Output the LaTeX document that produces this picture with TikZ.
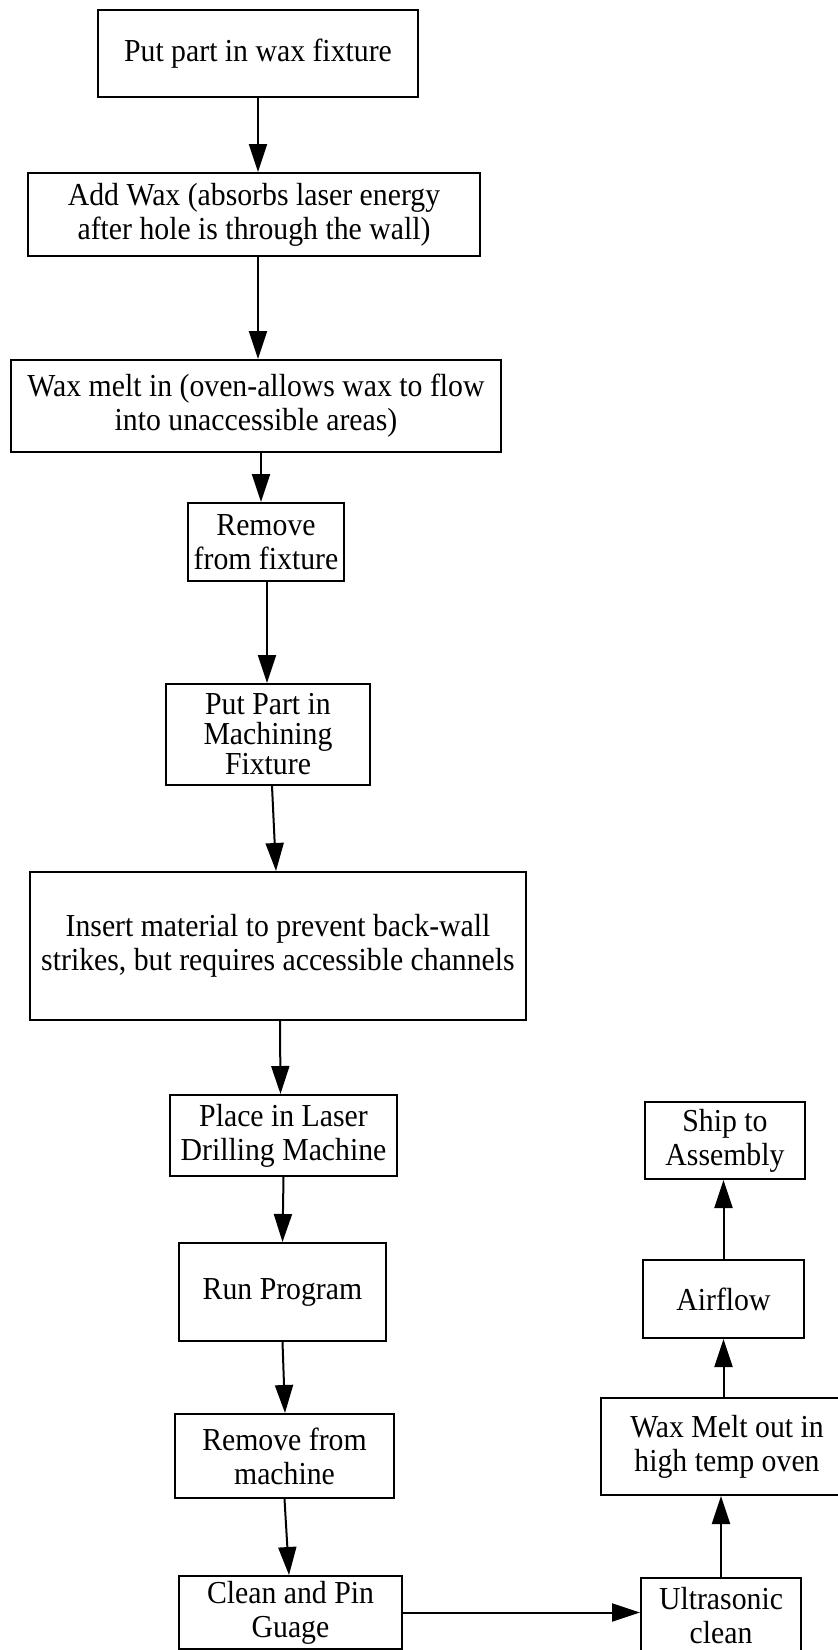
\documentclass[tikz,border=0pt]{standalone}
\usepackage{fontspec}
\setmainfont{Liberation Serif}[FakeStretch=0.93]
\usetikzlibrary{arrows.meta,calc}
\tikzset{
  box/.style={draw, line width=2pt, inner sep=0pt, align=center, anchor=center,
    font=\fontsize{32}{34}\selectfont},
  arr/.style={line width=2pt, -{Triangle[length=28pt,width=18pt]}}
}
\begin{document}
\begin{tikzpicture}[x=1pt,y=-1pt]
\useasboundingbox (0,0) rectangle (838,1650);
\clip (0,0) rectangle (838,1650);
\fill[white] (0,0) rectangle (838,1650);
\node[box, minimum width=320pt, minimum height=87pt] (n1) at (258,53.5) {Put part in wax fixture};
\node[box, minimum width=452pt, minimum height=83pt] (n2) at (254,214.5) {Add Wax (absorbs laser energy\\after hole is through the wall)};
\node[box, minimum width=490pt, minimum height=92pt] (n3) at (256,406) {Wax melt in (oven-allows wax to flow\\into unaccessible areas)};
\node[box, minimum width=156pt, minimum height=78pt] (n4) at (266,542) {Remove\\from fixture};
\node[box, minimum width=204pt, minimum height=101pt, font=\fontsize{32}{30}\selectfont] (n5) at (268,734.5) {Put Part in\\Machining\\Fixture};
\node[box, minimum width=496pt, minimum height=148pt] (n6) at (278,946) {Insert material to prevent back-wall\\strikes, but requires accessible channels};
\node[box, minimum width=227pt, minimum height=81pt] (n7) at (283.5,1135.5) {Place in Laser\\Drilling Machine};
\node[box, minimum width=207pt, minimum height=98pt] (n8) at (282.5,1292) {Run Program};
\node[box, minimum width=219pt, minimum height=84pt] (n9) at (284.5,1456) {Remove from\\machine};
\node[box, minimum width=223pt, minimum height=73pt] (n10) at (290.5,1612.5) {Clean and Pin\\Guage};
\node[box, minimum width=160pt, minimum height=76pt] (n11) at (721,1616) {Ultrasonic\\clean};
\node[box, minimum width=252pt, minimum height=97pt] (n12) at (727,1446.5) {Wax Melt out in\\high temp oven};
\node[box, minimum width=161pt, minimum height=78pt] (n13) at (723.5,1299) {Airflow};
\node[box, minimum width=160pt, minimum height=77pt] (n14) at (725,1140.5) {Ship to\\Assembly};

\draw[arr] (n1.south) -- (n1.south |- n2.north);
\draw[arr] ([xshift=4pt]n2.south) -- ([xshift=2pt]n3.north);
\draw[arr] ([xshift=5pt]n3.south) -- ([xshift=-5pt]n4.north);
\draw[arr] ([xshift=1pt]n4.south) -- ([xshift=-1pt]n5.north);
\draw[arr] ([xshift=4pt]n5.south) -- ([xshift=-2pt]n6.north);
\draw[arr] ([xshift=2pt]n6.south) -- ([xshift=-3pt]n7.north);
\draw[arr] (n7.south) -- (n8.north);
\draw[arr] (n8.south) -- ([xshift=0.5pt]n9.north);
\draw[arr] (n9.south) -- ([xshift=-1.5pt]n10.north);
\draw[arr] (n10.east) -- (n10.east -| n11.west);
\draw[arr] (n11.north) -- (n11.north |- n12.south);
\draw[arr] (n13.south |- n12.north) -- (n13.south);
\draw[arr] (n13.north) -- (n13.north |- n14.south);
\end{tikzpicture}
\end{document}
